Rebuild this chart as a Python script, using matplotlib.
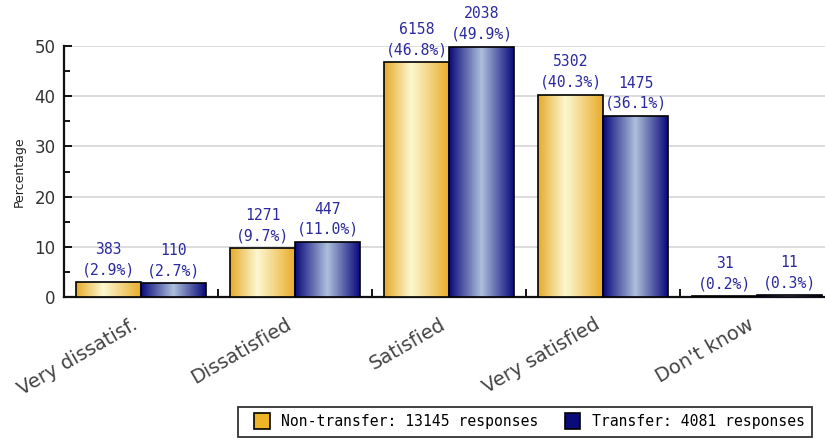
import numpy as np
import matplotlib
matplotlib.use("Agg")
import matplotlib.pyplot as plt
from matplotlib.colors import LinearSegmentedColormap
from matplotlib.patches import Rectangle
from matplotlib.legend_handler import HandlerPatch
from matplotlib.ticker import MultipleLocator, FixedLocator

# Satisfaction responses by transfer status
categories = ["Very dissatisf.", "Dissatisfied", "Satisfied", "Very satisfied", "Don't know"]
nontransfer_counts = [383, 1271, 6158, 5302, 31]
nontransfer_pct = [2.9, 9.7, 46.8, 40.3, 0.2]
transfer_counts = [110, 447, 2038, 1475, 11]
transfer_pct = [2.7, 11.0, 49.9, 36.1, 0.3]
legend_labels = ["Non-transfer: 13145 responses", "Transfer: 4081 responses"]

W, H = 825, 438
fig = plt.figure(figsize=(W / 100, H / 100), dpi=100)
ax = fig.add_axes([64 / W, 1 - 297 / H, 770 / W, 251 / H])

x = np.arange(len(categories))
bw = 0.422

gold_cmap = LinearSegmentedColormap.from_list(
    "gold", [(0.0, "#e6aa2a"), (0.42, "#fcf8d2"), (1.0, "#e9ad2a")])
navy_cmap = LinearSegmentedColormap.from_list(
    "navy", [(0.0, "#0a0a7a"), (0.5, "#adc0dc"), (1.0, "#0a0a7a")])
grad = np.linspace(0, 1, 256).reshape(1, -1)


def gradient_bars(xpos, heights, cmap):
    bars = ax.bar(xpos, heights, width=bw, facecolor="none",
                  edgecolor="black", linewidth=1.2, zorder=4)
    for b in bars:
        x0, y0 = b.get_x(), b.get_y()
        im = ax.imshow(grad, cmap=cmap, aspect="auto",
                       extent=(x0, x0 + b.get_width(), y0, y0 + b.get_height()),
                       zorder=3, interpolation="bicubic")
        im.set_clip_path(b)
    return bars


b1 = gradient_bars(x - bw / 2, nontransfer_pct, gold_cmap)
b2 = gradient_bars(x + bw / 2, transfer_pct, navy_cmap)

label_color = "#2a2a9e"
for bars, counts, pcts in ((b1, nontransfer_counts, nontransfer_pct),
                           (b2, transfer_counts, transfer_pct)):
    for b, c, p in zip(bars, counts, pcts):
        ax.annotate(f"{c}\n({p:.1f}%)",
                    (b.get_x() + b.get_width() / 2, b.get_height()),
                    xytext=(0, 3.5), textcoords="offset points",
                    ha="center", va="bottom", color=label_color,
                    fontsize=10.6, family="DejaVu Sans Mono",
                    linespacing=1.45, clip_on=False, zorder=6)

ax.set_xlim(-0.5, len(categories) - 0.5)
ax.set_ylim(0, 50)

# Grid and ticks
ax.yaxis.set_major_locator(MultipleLocator(10))
ax.yaxis.set_minor_locator(MultipleLocator(5))
ax.grid(axis="y", which="major", color="#dcdcdc", linewidth=1.4, zorder=0)
ax.set_axisbelow(True)
ax.tick_params(axis="y", which="major", direction="in", length=6, width=1.3,
               labelsize=12, labelcolor="#333333", pad=6)
ax.tick_params(axis="y", which="minor", direction="in", length=4, width=1.3)

ax.set_xticks(x)
ax.set_xticklabels(categories, rotation=30, ha="right", va="top",
                   fontsize=14, color="#444444")
ax.xaxis.set_minor_locator(FixedLocator(np.arange(0.5, len(categories) - 0.5)))
ax.tick_params(axis="x", which="major", length=0, pad=13)
ax.tick_params(axis="x", which="minor", direction="in", length=6, width=1.3)

for s in ("top", "right"):
    ax.spines[s].set_visible(False)
for s in ("left", "bottom"):
    ax.spines[s].set_linewidth(1.6)
    ax.spines[s].set_color("#111111")

ax.set_ylabel("Percentage", fontsize=9, color="#222222", labelpad=6)


def square_patch(legend, orig_handle, xdescent, ydescent, width, height, fontsize):
    side = 11.0  # points
    return Rectangle((width - side - xdescent, -ydescent - 1), side, height + 2)


handles = [Rectangle((0, 0), 1, 1, facecolor="#efb426", edgecolor="black", linewidth=1.2),
           Rectangle((0, 0), 1, 1, facecolor="#0a0a7a", edgecolor="black", linewidth=1.2)]
leg = fig.legend(handles, legend_labels, loc="upper left",
                 bbox_to_anchor=(238 / W, 1 - 407 / H), ncol=2,
                 prop={"family": "DejaVu Sans Mono", "size": 10.6},
                 fancybox=False, framealpha=1, edgecolor="#333333",
                 handler_map={Rectangle: HandlerPatch(patch_func=square_patch)},
                 handlelength=1.64, handleheight=1.0, handletextpad=0.75,
                 columnspacing=1.25, borderpad=0.5, borderaxespad=0)
leg.get_frame().set_linewidth(1.3)

fig.savefig("out.png", dpi=100)
